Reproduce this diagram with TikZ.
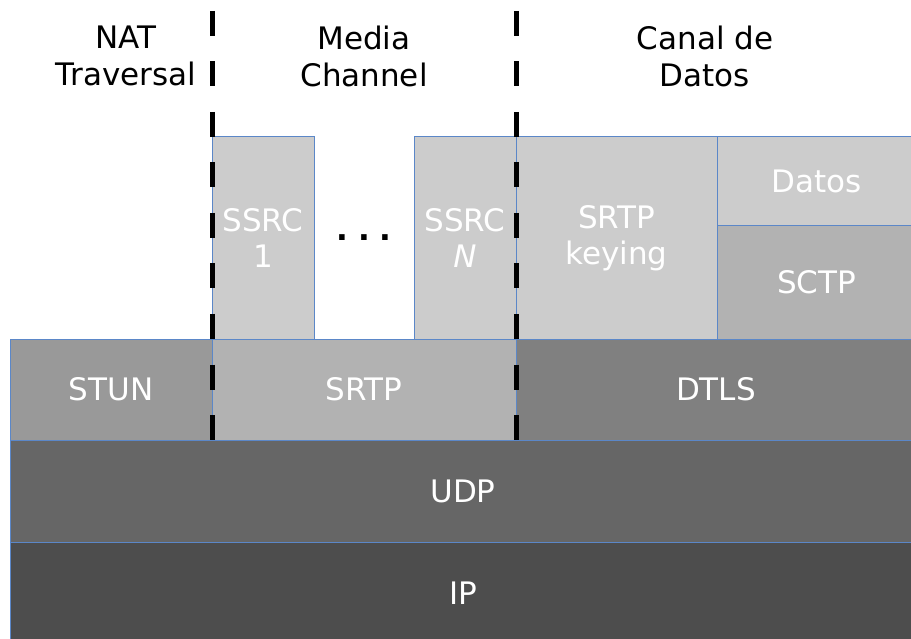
\documentclass[tikz,border=0pt]{standalone}
\usepackage{fontspec}
\setmainfont{DejaVu Sans}
\definecolor{bordercol}{RGB}{91,135,200}
\definecolor{clight}{HTML}{CCCCCC}
\definecolor{cmid}{HTML}{B2B2B2}
\definecolor{cstun}{HTML}{999999}
\definecolor{cdtls}{HTML}{808080}
\definecolor{cudp}{HTML}{666666}
\definecolor{cip}{HTML}{4D4D4D}
\begin{document}
\begin{tikzpicture}[x=1pt,y=-1pt,
  box/.style={draw=bordercol, line width=1pt, text=white,
    font=\fontsize{31}{36}\selectfont, align=center, inner sep=0pt,
    outer sep=0pt, anchor=north west},
  hdr/.style={font=\fontsize{31}{37}\selectfont, align=center, text=black},
  sepline/.style={line width=5pt, dash pattern=on 25pt off 25.5pt}]
\useasboundingbox (0,0) rectangle (911,639);
\clip (0,0) rectangle (911,639);
\fill[white] (0,0) rectangle (911,639);
% bottom layers
\node[box, fill=cip, minimum width=906pt, minimum height=102pt] (ip) at (10,542) {IP};
\node[box, fill=cudp, minimum width=906pt, minimum height=102pt] (udp) at (10,440) {UDP};
% middle row
\node[box, fill=cstun, minimum width=202pt, minimum height=101pt] (stun) at (10,339) {STUN};
\node[box, fill=cmid, minimum width=304pt, minimum height=101pt] (srtp) at (212,339) {SRTP};
\node[box, fill=cdtls, minimum width=400pt, minimum height=101pt] (dtls) at (516,339) {DTLS};
% top row
\node[box, fill=clight, minimum width=102pt, minimum height=202pt] (ssrc1) at (212,137) {SSRC\\1};
\node[box, fill=clight, minimum width=102pt, minimum height=202pt] (ssrcn) at (414,137) {SSRC\\\textit{N}};
\node[box, fill=clight, minimum width=201pt, minimum height=202pt] (keying) at (516,137) {SRTP\\keying};
\node[box, fill=clight, minimum width=199pt, minimum height=89pt] (datos) at (717,137) {Datos};
\node[box, fill=cmid, minimum width=199pt, minimum height=113pt] (sctp) at (717,226) {SCTP};
% dots
\node[font=\fontsize{31}{36}\selectfont\bfseries, anchor=base] (dots) at (364,241) {.\hspace{10pt}.\hspace{10pt}.};
% headers
\node[hdr] (hnat) at (126,56) {NAT\\Traversal};
\node[hdr] (hmedia) at (364,56) {Media\\Channel};
\node[hdr] (hcanal) at (705,56) {Canal de\\Datos};
% separators
\coordinate (s1top) at (212,11);
\coordinate (s2top) at (516,11);
\draw[sepline] (s1top) -- (srtp.south west);
\draw[sepline] (s2top) -- (dtls.south west);
\end{tikzpicture}
\end{document}
